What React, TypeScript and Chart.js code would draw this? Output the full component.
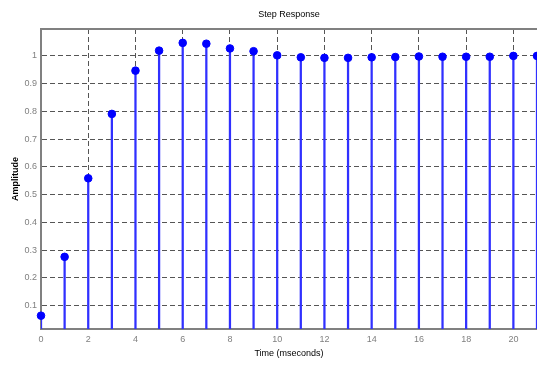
import React, { useEffect, useRef } from "react";
import { Chart, registerables } from "chart.js";

Chart.register(...registerables);

const sampleTimes = [0, 1, 2, 3, 4, 5, 6, 7, 8, 9, 10, 11, 12, 13, 14, 15, 16, 17, 18, 19, 20, 21];
const amplitudes = [0.064, 0.276, 0.559, 0.791, 0.947, 1.019, 1.047, 1.044, 1.027, 1.017, 1.002, 0.995, 0.993, 0.993, 0.995, 0.996, 0.998, 0.997, 0.997, 0.997, 1.0, 1.0];
const chartTitle = "Step Response";
const xLabel = "Time (mseconds)";
const yLabel = "Amplitude";

const FONT = "'Liberation Sans', Arial, sans-serif";

export default function App() {
  const ref = useRef<HTMLCanvasElement | null>(null);
  useEffect(() => {
    if (!ref.current) return;
    const pts = sampleTimes.map((t, i) => ({ x: t, y: amplitudes[i] }));
    const decor = {
      id: "decor",
      afterDraw(chart: any) {
        const { ctx, chartArea } = chart;
        ctx.save();
        ctx.strokeStyle = "#808080";
        ctx.lineWidth = 2;
        ctx.beginPath();
        ctx.moveTo(chartArea.left - 1, chartArea.top);
        ctx.lineTo(chartArea.right, chartArea.top);
        ctx.stroke();
        ctx.fillStyle = "#000";
        ctx.font = `9px ${FONT}`;
        ctx.textAlign = "center";
        ctx.textBaseline = "middle";
        ctx.fillText(chartTitle, (chartArea.left + chartArea.right) / 2, 15);
        ctx.restore();
      },
    };
    const chart = new Chart(ref.current, {
      type: "scatter",
      data: {
        datasets: [
          {
            type: "scatter",
            data: pts,
            backgroundColor: "#0000ff",
            borderColor: "#0000ff",
            pointRadius: 3.8,
            pointHoverRadius: 3.8,
            clip: 10,
            order: 0,
          } as any,
          {
            type: "bar",
            data: pts,
            backgroundColor: "#3030ff",
            borderWidth: 0,
            barThickness: 1.6,
            order: 1,
          } as any,
        ],
      },
      plugins: [decor],
      options: {
        responsive: false,
        animation: false,
        layout: { autoPadding: false, padding: { top: 29, right: 0, left: 0, bottom: 0 } },
        plugins: { legend: { display: false }, tooltip: { enabled: false }, title: { display: false } },
        scales: {
          x: {
            type: "linear",
            min: 0,
            max: 21,
            offset: false,
            afterFit: (s: any) => { s.height = 36; },
            grid: { color: "#555", lineWidth: 1, drawTicks: false, offset: false },
            border: { display: true, color: "#808080", width: 2, dash: [5, 3] },
            ticks: {
              stepSize: 2,
              includeBounds: false,
              padding: 5,
              color: "#7f7f7f",
              font: { family: FONT, size: 9 },
              maxRotation: 0,
              callback: (v: any) => String(v),
            },
            title: { display: true, text: xLabel, color: "#000", font: { family: FONT, size: 9 }, padding: { top: 5.6, bottom: 5.6 } },
          },
          y: {
            type: "linear",
            min: 0.016,
            max: 1.097,
            afterFit: (s: any) => { s.width = 41; },
            grid: { color: "#555", lineWidth: 1, drawTicks: false },
            border: { display: true, color: "#808080", width: 2, dash: [5, 3] },
            ticks: {
              stepSize: 0.1,
              includeBounds: false,
              padding: 4,
              color: "#7f7f7f",
              font: { family: FONT, size: 9 },
              callback: (v: any) => String(Math.round(v * 10) / 10),
            },
            title: { display: true, text: yLabel, color: "#000", font: { family: FONT, size: 9, weight: "bold" }, padding: { top: 10.6, bottom: 10.6 } },
          },
        },
      } as any,
    });
    return () => chart.destroy();
  }, []);
  return (
    <div style={{ position: "fixed", left: 0, top: 0, width: 537, height: 365, background: "#fff" }}>
      <canvas ref={ref} width={537} height={365} style={{ display: "block" }} />
    </div>
  );
}
